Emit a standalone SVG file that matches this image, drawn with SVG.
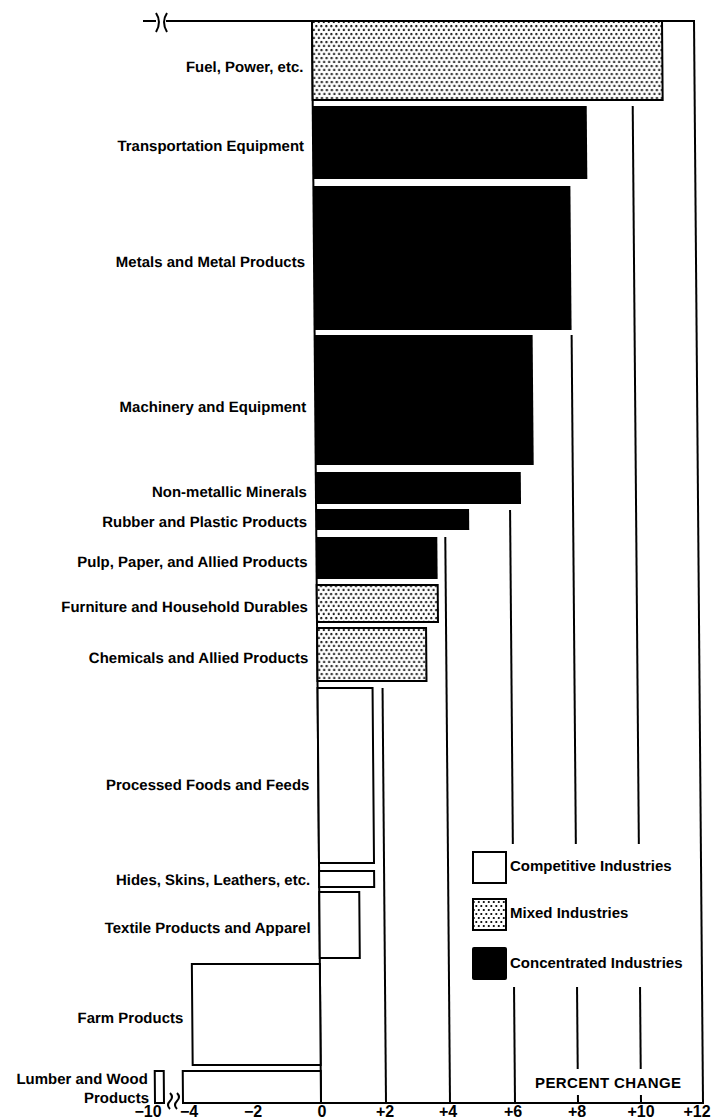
<svg xmlns="http://www.w3.org/2000/svg" width="713" height="1120" viewBox="0 0 713 1120">
<defs>
<pattern id="stip" width="5" height="8" patternUnits="userSpaceOnUse">
<rect width="5" height="8" fill="#fff"/>
<circle cx="1.3" cy="2" r="1.1" fill="#000"/>
<circle cx="3.8" cy="6" r="1.1" fill="#000"/>
</pattern>
</defs>
<style>
.lbl{font-family:"Liberation Sans",Arial,sans-serif;font-size:15px;font-weight:bold;fill:#000;text-anchor:end}
.leg{font-family:"Liberation Sans",Arial,sans-serif;font-size:15px;font-weight:bold;fill:#000}
.tick{font-family:"Liberation Sans",Arial,sans-serif;font-size:16px;font-weight:bold;fill:#000;text-anchor:middle}
.ln{stroke:#000;stroke-width:2;fill:none}
.grid{stroke:#000;stroke-width:2}
.blk{fill:#000}
.dot{fill:url(#stip);stroke:#000;stroke-width:2}
.wht{fill:#fff;stroke:#000;stroke-width:2}
</style>
<rect width="713" height="1120" fill="#fff"/>
<g id="chart" transform="matrix(1 0 0.00831 1 -0.166 0)">
<g id="connectors">
<line class="grid" x1="377" y1="688" x2="377" y2="1103"/>
<line class="grid" x1="441" y1="537" x2="441" y2="1103"/>
<line class="grid" x1="506" y1="510" x2="506" y2="844"/>
<line class="grid" x1="506" y1="987" x2="506" y2="1103"/>
<line class="grid" x1="569" y1="335" x2="569" y2="844"/>
<line class="grid" x1="569" y1="987" x2="569" y2="1069"/>
<line class="grid" x1="569" y1="1095" x2="569" y2="1103"/>
<line class="grid" x1="632" y1="106" x2="632" y2="844"/>
<line class="grid" x1="632" y1="987" x2="632" y2="1069"/>
<line class="grid" x1="632" y1="1095" x2="632" y2="1103"/>
<line class="grid" x1="694" y1="20" x2="694" y2="1104"/>
<line class="grid" x1="166" y1="21" x2="695" y2="21"/>
<line class="grid" x1="143" y1="21" x2="156" y2="21"/>
<line class="grid" x1="174" y1="1103" x2="695" y2="1103"/>
<line class="grid" x1="312" y1="21" x2="312" y2="1103"/>
</g>
<g id="fuel"><rect class="dot" x="312" y="21" width="350" height="79"/><text class="lbl" x="303" y="72">Fuel, Power, etc.</text></g>
<g id="transport"><rect class="blk" x="312" y="106" width="274" height="73"/><text class="lbl" x="303" y="151">Transportation Equipment</text></g>
<g id="metals"><rect class="blk" x="312" y="186" width="257" height="144"/><text class="lbl" x="303" y="267">Metals and Metal Products</text></g>
<g id="machinery"><rect class="blk" x="312" y="335" width="218" height="130"/><text class="lbl" x="303" y="412">Machinery and Equipment</text></g>
<g id="nonmetallic"><rect class="blk" x="312" y="472" width="205" height="32"/><text class="lbl" x="303" y="497">Non-metallic Minerals</text></g>
<g id="rubber"><rect class="blk" x="312" y="509" width="153" height="21"/><text class="lbl" x="303" y="527">Rubber and Plastic Products</text></g>
<g id="pulp"><rect class="blk" x="312" y="537" width="121" height="42"/><text class="lbl" x="303" y="567">Pulp, Paper, and Allied Products</text></g>
<g id="furniture"><rect class="dot" x="312" y="585" width="121" height="37"/><text class="lbl" x="303" y="612">Furniture and Household Durables</text></g>
<g id="chemicals"><rect class="dot" x="312" y="628" width="109" height="53"/><text class="lbl" x="303" y="663">Chemicals and Allied Products</text></g>
<g id="foods"><rect class="wht" x="312" y="688" width="55" height="175"/><text class="lbl" x="303" y="790">Processed Foods and Feeds</text></g>
<g id="hides"><rect class="wht" x="312" y="871" width="55" height="16"/><text class="lbl" x="303" y="885">Hides, Skins, Leathers, etc.</text></g>
<g id="textile"><rect class="wht" x="312" y="892" width="40" height="66"/><text class="lbl" x="303" y="933">Textile Products and Apparel</text></g>
<g id="farm"><rect class="wht" x="184" y="964" width="128" height="101"/><text class="lbl" x="175" y="1023">Farm Products</text></g>
<g id="lumber"><rect class="wht" x="174" y="1071" width="138" height="32"/><rect class="wht" x="146" y="1071" width="9" height="32"/><text class="lbl" x="139" y="1084">Lumber and Wood</text><text class="lbl" x="140" y="1103">Products</text></g>
</g>
<g id="breaks">
<path class="ln" d="M156,13 q6,9 0,19 M167,13 q-6,9 0,19"/>
<path class="ln" stroke-width="1.6" d="M170,1093 q4,4 0,8 q-4,4 0,8 M177,1093 q4,4 0,8 q-4,4 0,8"/>
</g>
<g id="legend">
<rect class="wht" x="473" y="852" width="33" height="31"/>
<text class="leg" x="510" y="871">Competitive Industries</text>
<rect class="dot" x="473" y="899" width="33" height="31"/>
<text class="leg" x="510" y="918">Mixed Industries</text>
<rect class="blk" x="472" y="947" width="35" height="33" rx="2"/>
<text class="leg" x="510" y="968">Concentrated Industries</text>
</g>
<g id="axis">
<text class="leg" x="535" y="1088" letter-spacing="0.4">PERCENT CHANGE</text>
<text class="tick" x="148" y="1117">−10</text>
<text class="tick" x="189" y="1117">−4</text>
<text class="tick" x="253" y="1117">−2</text>
<text class="tick" x="322" y="1117">0</text>
<text class="tick" x="385" y="1117">+2</text>
<text class="tick" x="448" y="1117">+4</text>
<text class="tick" x="513" y="1117">+6</text>
<text class="tick" x="577" y="1117">+8</text>
<text class="tick" x="641" y="1117">+10</text>
<text class="tick" x="697" y="1117">+12</text>
</g>
</svg>
